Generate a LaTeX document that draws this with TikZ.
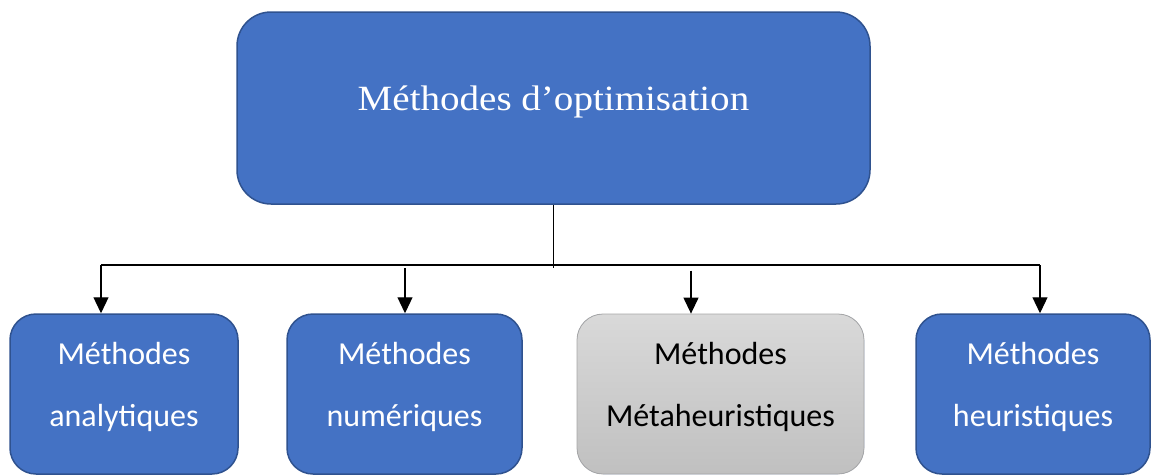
\documentclass[tikz,border=0pt]{standalone}
\usepackage{fontspec}
\setmainfont{Carlito}
\newfontfamily\titlefont[FakeStretch=1.1]{Liberation Serif}
\usetikzlibrary{shapes,arrows.meta}
\definecolor{boxblue}{HTML}{4472C4}
\definecolor{boxedge}{HTML}{2F528F}
\definecolor{greytop}{HTML}{D9D9D9}
\definecolor{greybot}{HTML}{C0C0C0}
\definecolor{greyedge}{HTML}{A6A6A6}
\tikzstyle{rootbox} = [draw=boxedge, fill=boxblue, rectangle, rounded corners=34pt, line width=1.5pt, text=white, font=\titlefont\fontsize{35.5}{42}\selectfont, minimum width=633pt, minimum height=192pt, text height=14pt, text depth=10pt]
\tikzstyle{methodbox} = [draw=boxedge, fill=boxblue, rectangle, rounded corners=26pt, line width=1.5pt, text=white, align=center, font=\fontsize{32}{62}\selectfont, minimum height=160pt, text height=74pt, text depth=10pt]
\tikzstyle{metabox} = [methodbox, draw=greyedge, line width=0.8pt, top color=greytop, bottom color=greybot, text=black]
\tikzstyle{link} = [line width=1.2pt]
\tikzstyle{branch} = [link, -{Triangle[width=15pt,length=16pt]}]

\begin{document}
\begin{tikzpicture}[x=1pt,y=-1pt]
	\useasboundingbox (0,0) rectangle (1162,475);
	% the root and the four families
	\node [rootbox] (root) at (553.5,108) {Méthodes d’optimisation};
	\node [methodbox,minimum width=228pt] (analytic) at (124,394) {Méthodes\\analytiques};
	\node [methodbox,minimum width=235pt] (numeric) at (404.5,394) {Méthodes\\numériques};
	\node [metabox,minimum width=287pt] (meta) at (720.5,394) {Méthodes\\Métaheuristiques};
	\node [methodbox,minimum width=234pt] (heuristic) at (1033,394) {Méthodes\\heuristiques};

	% the bus under the root
	\coordinate (busmid) at (553.5,268);
	\coordinate (busl) at (101,265);
	\coordinate (busr) at (1040,265);
	\draw [link] (root.south) -- (busmid);
	\draw [link] (busl) -- (busr);

	% drops to each family
	\draw [branch] (busl) -- (busl |- analytic.north);
	\coordinate (drop2) at (405,268);
	\draw [branch] (drop2) -- (drop2 |- numeric.north);
	\coordinate (drop3) at (691,270.5);
	\draw [branch] (drop3) -- (drop3 |- meta.north);
	\draw [branch] (busr) -- (busr |- heuristic.north);
\end{tikzpicture}
\end{document}
